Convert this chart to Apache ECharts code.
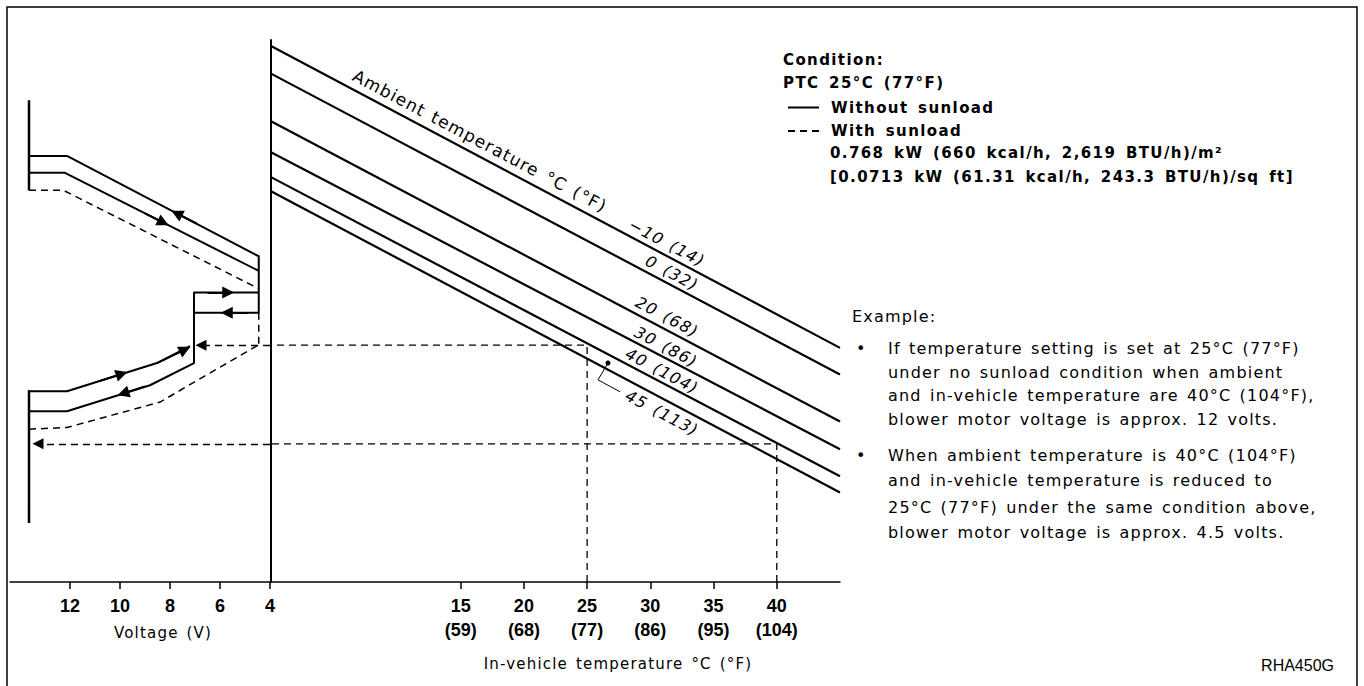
<!DOCTYPE html>
<html>
<head>
<meta charset="utf-8">
<script src="https://cdn.jsdelivr.net/npm/echarts@6/dist/echarts.min.js"></script>
<style>
html, body { margin: 0; background: #fff; }
#main { width: 1364px; height: 686px; }
/* the original sheet uses loosely tracked lettering */
#main text[style*="DejaVu"] { letter-spacing: 1.2px; word-spacing: 2px; }
#main text[style*="DejaVu"][style*="bold"] { letter-spacing: 1.4px; word-spacing: 3px; }
</style>
</head>
<body>
<div id="main"></div>
<script>
// tick labels
var voltTicks = [4, 6, 8, 10, 12];
var tempC = [15, 20, 25, 30, 35, 40];
var tempF = [59, 68, 77, 86, 95, 104];

// ambient temperature lines: level at in-vehicle 0 °C and 45 °C
var ambientNames = ['−10 (14)', '0 (32)', '20 (68)', '30 (86)', '40 (104)', '45 (113)'];
var ambientStart = [98.9, 93.8, 85.0, 79.3, 74.7, 72.1];
var ambientEnd = [43.2, 38.3, 29.6, 24.5, 19.5, 16.5];

// voltage side, points are [voltage, level]
var barTop = [[13.64, 88.9], [13.64, 72.3]];
var barBottom = [[13.64, 35.4], [13.64, 10.9]];
var upperDown = [[13.64, 78.6], [12.12, 78.6], [4.45, 60.1], [4.45, 49.7], [7.04, 49.7]];
var upperUp = [[13.64, 75.5], [12.2, 75.5], [4.45, 57.4]];
var upperSun = [[13.64, 72.3], [12.28, 72.3], [4.48, 54.2]];
var lowerDown = [[4.45, 53.4], [7.04, 53.4], [7.04, 40.4], [8.8, 36.3], [12.12, 31.5], [13.64, 31.5]];
var lowerUp = [[13.64, 35.2], [12.12, 35.2], [8.52, 40.4], [7.2, 43.5]];
var lowerSun = [[13.64, 28.2], [12.12, 28.5], [8.4, 33.2], [4.48, 43.7]];
var sunLink = [[4.45, 49.7], [4.45, 43.7]];

// arrow heads along the curves (from -> to)
var arrowSegs = [
    [[6.92, 66.1], [7.73, 68.0]],
    [[9.0, 68.0], [8.27, 66.3]],
    [[6.5, 53.4], [5.67, 53.4]],
    [[4.9, 49.7], [5.73, 49.7]],
    [[10.8, 37.1], [9.93, 38.4]],
    [[9.0, 36.1], [9.87, 34.8]],
    [[8.52, 40.4], [7.4, 42.9]]
];

// worked examples: in-vehicle temp, level on the 40 °C line, voltage reached
var exampleTemp = [25, 40];
var exampleLevel = [43.7, 25.5];
var exampleVolt = [6.76, 13.28];

// leader for the 45 (113) label, [temp, level]
var leader45 = [[26.65, 40.4], [25.86, 37.3], [27.6, 35.1]];

var chartDom = document.getElementById('main');
var myChart = echarts.init(chartDom, null, { renderer: 'svg' });
var option;

var black = '#000';
var sans = 'DejaVu Sans';
var narrow = '"Liberation Sans Narrow", "Liberation Sans", sans-serif';

function lineSeries(name, data, idx, dashed, width) {
    return {
        name: name,
        type: 'line',
        xAxisIndex: idx,
        yAxisIndex: idx,
        data: data,
        symbol: 'none',
        silent: true,
        animation: false,
        lineStyle: { color: black, width: width || 2, type: dashed ? [7, 5] : 'solid' }
    };
}

var series = [
    lineSeries('Without sunload', upperDown, 0),
    lineSeries('With sunload', upperSun, 0, true, 1.5),
    lineSeries('Without sunload', upperUp, 0),
    lineSeries('Without sunload', lowerDown, 0),
    lineSeries('Without sunload', lowerUp, 0),
    lineSeries('With sunload', lowerSun, 0, true, 1.5),
    lineSeries('With sunload', sunLink, 0, true, 1.5),
    lineSeries('bar', barTop, 0, false, 2.5),
    lineSeries('bar', barBottom, 0, false, 2.5)
];

ambientNames.forEach(function (n, i) {
    series.push(lineSeries(n, [[0, ambientStart[i]], [45, ambientEnd[i]]], 1, false, 2.2));
});

exampleTemp.forEach(function (t, i) {
    var lv = exampleLevel[i];
    series.push(lineSeries('example', [[t, 0], [t, lv], [0, lv]], 1, true, 1.3));
});

series.push({
    name: 'leader',
    type: 'line',
    xAxisIndex: 1,
    yAxisIndex: 1,
    silent: true,
    animation: false,
    data: leader45.map(function (p, i) {
        return { value: p, symbol: i === 0 ? 'circle' : 'none', symbolSize: 5 };
    }),
    itemStyle: { color: black },
    lineStyle: { color: black, width: 1 }
});

series.push({
    name: 'arrows',
    type: 'lines',
    coordinateSystem: 'cartesian2d',
    xAxisIndex: 0,
    yAxisIndex: 0,
    silent: true,
    animation: false,
    symbol: ['none', 'triangle'],
    symbolSize: 12,
    lineStyle: { color: black, width: 2, opacity: 1 },
    data: arrowSegs.map(function (s) { return { coords: s }; })
});

series.push({
    name: 'example arrows',
    type: 'lines',
    coordinateSystem: 'cartesian2d',
    xAxisIndex: 0,
    yAxisIndex: 0,
    silent: true,
    animation: false,
    symbol: ['none', 'triangle'],
    symbolSize: 11,
    lineStyle: { color: black, width: 1.3, type: [7, 5], opacity: 1 },
    data: exampleVolt.map(function (v, i) {
        return { coords: [[4, exampleLevel[i]], [v, exampleLevel[i]]] };
    })
});

function label(x, y, text, extra) {
    var st = { text: text, fill: black, fontSize: 16, fontFamily: sans, align: 'left', verticalAlign: 'middle' };
    for (var k in extra) st[k] = extra[k];
    return { type: 'text', x: x, y: y, style: st, silent: true };
}

function slanted(x, y, text, extra) {
    var el = label(x, y, text, extra);
    el.style.align = 'center';
    el.rotation = -0.487;
    return el;
}

var bold = { fontWeight: 'bold', fontSize: 15 };
var graphics = [
    { type: 'polyline', silent: true, shape: { points: [[7, 690], [7, 7], [1357, 7], [1357, 690]] },
      style: { stroke: black, lineWidth: 1.5, fill: null } },
    label(783, 60, 'Condition:', bold),
    label(783, 83, 'PTC 25°C (77°F)', bold),
    label(830, 153, '0.768 kW (660 kcal/h, 2,619 BTU/h)/m²', bold),
    label(830, 177, '[0.0713 kW (61.31 kcal/h, 243.3 BTU/h)/sq ft]', bold),
    label(852, 316, 'Example:'),
    label(856, 348, '•'),
    label(888, 348, 'If temperature setting is set at 25°C (77°F)'),
    label(888, 372, 'under no sunload condition when ambient'),
    label(888, 395, 'and in-vehicle temperature are 40°C (104°F),'),
    label(888, 419, 'blower motor voltage is approx. 12 volts.'),
    label(856, 455, '•'),
    label(888, 455, 'When ambient temperature is 40°C (104°F)'),
    label(888, 480, 'and in-vehicle temperature is reduced to'),
    label(888, 507, '25°C (77°F) under the same condition above,'),
    label(888, 532, 'blower motor voltage is approx. 4.5 volts.'),
    label(1334, 665, 'RHA450G', { fontFamily: 'Liberation Sans', align: 'right' }),
    slanted(480, 141, 'Ambient temperature °C (°F)', { fontSize: 17 }),
    slanted(667, 243, ambientNames[0], { fontStyle: 'italic' }),
    slanted(672, 273, ambientNames[1], { fontStyle: 'italic' }),
    slanted(667, 317, ambientNames[2], { fontStyle: 'italic' }),
    slanted(666, 347, ambientNames[3], { fontStyle: 'italic' }),
    slanted(662, 371, ambientNames[4], { fontStyle: 'italic' }),
    slanted(662, 413, ambientNames[5], { fontStyle: 'italic' })
];

var tickLabel = { color: black, fontFamily: narrow, fontWeight: 'bold', fontSize: 18, lineHeight: 24, margin: 12 };

option = {
    animation: false,
    legend: {
        data: ['Without sunload', 'With sunload'],
        orient: 'vertical',
        left: 787,
        top: 100,
        padding: 0,
        itemWidth: 31,
        itemHeight: 14,
        itemGap: 8.5,
        selectedMode: false,
        itemStyle: { opacity: 0 },
        textStyle: { color: black, fontFamily: sans, fontWeight: 'bold', fontSize: 15, padding: [0, 0, 0, 7] }
    },
    grid: [
        { left: 10, top: 40, width: 260, height: 542, containLabel: false },
        { left: 271, top: 40, width: 569, height: 542, containLabel: false }
    ],
    xAxis: [
        {
            gridIndex: 0,
            type: 'value',
            inverse: true,
            min: 4,
            max: 14.4,
            name: 'Voltage (V)',
            nameLocation: 'middle',
            nameGap: 43,
            nameTextStyle: { color: black, fontFamily: sans, fontSize: 15, padding: [0, 0, 0, 46] },
            axisLine: { onZero: false, lineStyle: { color: black, width: 1.5 } },
            axisTick: { customValues: voltTicks, length: 7, lineStyle: { color: black, width: 1.5 } },
            axisLabel: Object.assign({ customValues: voltTicks }, tickLabel),
            splitLine: { show: false }
        },
        {
            gridIndex: 1,
            type: 'value',
            min: 0,
            max: 45,
            name: 'In-vehicle temperature °C (°F)',
            nameLocation: 'middle',
            nameGap: 74,
            nameTextStyle: { color: black, fontFamily: sans, fontSize: 15, padding: [0, 0, 0, 125] },
            axisLine: { onZero: false, lineStyle: { color: black, width: 1.5 } },
            axisTick: { customValues: tempC, length: 7, lineStyle: { color: black, width: 1.5 } },
            axisLabel: Object.assign({
                customValues: tempC,
                formatter: function (v) {
                    return v + '\n(' + tempF[tempC.indexOf(v)] + ')';
                }
            }, tickLabel),
            splitLine: { show: false }
        }
    ],
    yAxis: [
        { gridIndex: 0, type: 'value', min: 0, max: 100, show: false },
        {
            gridIndex: 1,
            type: 'value',
            min: 0,
            max: 100,
            axisLine: { show: true, onZero: false, lineStyle: { color: black, width: 2 } },
            axisTick: { show: false },
            axisLabel: { show: false },
            splitLine: { show: false }
        }
    ],
    graphic: graphics,
    series: series
};

option && myChart.setOption(option);
</script>
</body>
</html>
